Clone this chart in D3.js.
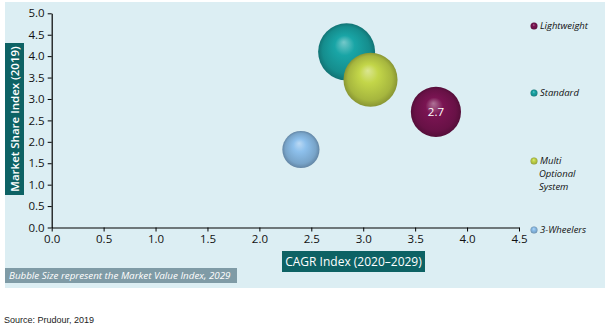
<!DOCTYPE html>
<html><head><meta charset="utf-8">
<script src="https://cdn.jsdelivr.net/npm/d3@7"></script>
<style>
html,body{margin:0;padding:0;background:#fff;}
svg{display:block;}
</style></head>
<body>
<svg id="chart" width="606" height="331"></svg>
<script>
const categories = ["Standard", "Multi Optional System", "Lightweight", "3-Wheelers"];
const cagrIndex = [2.84, 3.07, 3.70, 2.40];
const marketShareIndex = [4.1, 3.45, 2.7, 1.82];
const marketValueIndex = [4.0, 3.6, 3.1, 1.7];
const colors = ["#19A5A6", "#C3D649", "#7A1452", "#8DC0EC"];
const xTicks = [0, 0.5, 1, 1.5, 2, 2.5, 3, 3.5, 4, 4.5];
const yTicks = [0, 0.5, 1, 1.5, 2, 2.5, 3, 3.5, 4, 4.5, 5];
const legendOrder = ["Lightweight", "Standard", "Multi Optional System", "3-Wheelers"];
const legendLines = [["Lightweight"], ["Standard"], ["Multi", "Optional", "System"], ["3-Wheelers"]];
const labelled = ["Lightweight"];

const svg = d3.select("#chart");
const font = "'Open Sans', sans-serif";

// panel
svg.append("rect").attr("x", 5).attr("y", 2).attr("width", 600).attr("height", 286).attr("fill", "#DCEEF3");

const x = d3.scaleLinear().domain([0, 4.5]).range([51.7, 519]);
const y = d3.scaleLinear().domain([0, 5]).range([227.5, 13.3]);
const r = d3.scaleSqrt().domain([0, 4.0]).range([0, 28.5]);

// gradients
const defs = svg.append("defs");
colors.forEach((c, i) => {
  const g = defs.append("radialGradient").attr("id", "g" + i)
    .attr("cx", "50%").attr("cy", "50%").attr("r", "50%")
    .attr("fx", "45%").attr("fy", "33%");
  const base = d3.color(c);
  g.append("stop").attr("offset", "0%").attr("stop-color", d3.interpolateRgb(c, "#ffffff")(0.4));
  g.append("stop").attr("offset", "35%").attr("stop-color", c);
  g.append("stop").attr("offset", "82%").attr("stop-color", base.darker(0.45));
  g.append("stop").attr("offset", "100%").attr("stop-color", base.darker(1.0));
});

// axes
const xAxis = svg.append("g").attr("transform", "translate(0,227.5)")
  .call(d3.axisBottom(x).tickValues(xTicks).tickFormat(d3.format(".1f")).tickSize(4).tickSizeOuter(0));
const yAxis = svg.append("g").attr("transform", "translate(51.7,0)")
  .call(d3.axisLeft(y).tickValues(yTicks).tickFormat(d3.format(".1f")).tickSize(4).tickSizeOuter(0));
[xAxis, yAxis].forEach(a => {
  a.selectAll("path").attr("stroke", "#000").attr("stroke-width", 1.2);
  a.selectAll("line").attr("stroke", "#000");
  a.selectAll("text").attr("fill", "#111").style("font-family", font).style("font-size", "11.5px");
});
xAxis.selectAll("text").attr("dy", "1.0em").attr("y", 4);
yAxis.selectAll("text").attr("x", -7);

// bubbles
const data = categories.map((c, i) => ({c, x: cagrIndex[i], y: marketShareIndex[i], v: marketValueIndex[i], i}));
svg.append("g").selectAll("circle").data(data).join("circle")
  .attr("cx", d => x(d.x)).attr("cy", d => y(d.y)).attr("r", d => r(d.v))
  .attr("fill", d => `url(#g${d.i})`);
svg.append("g").selectAll("text").data(data.filter(d => labelled.includes(d.c))).join("text")
  .attr("x", d => x(d.x)).attr("y", d => y(d.y)).attr("dy", "0.35em")
  .attr("text-anchor", "middle").attr("fill", "#fff")
  .style("font-family", font).style("font-size", "11.5px")
  .text(d => d3.format(".1f")(d.y));

// legend
const legendY = [26, 93, 161, 230];
const lg = svg.append("g");
legendOrder.forEach((name, k) => {
  const i = categories.indexOf(name);
  lg.append("circle").attr("cx", 534).attr("cy", legendY[k]).attr("r", 3.5).attr("fill", `url(#g${i})`);
  legendLines[k].forEach((t, j) => {
    lg.append("text").attr("x", j === 0 ? 540 : 539).attr("y", legendY[k] + j * 13).attr("dy", "0.35em")
      .attr("fill", "#111").style("font-family", font).style("font-size", "9.5px").style("font-style", "italic")
      .text(t);
  });
});

// y title
svg.append("rect").attr("x", 5).attr("y", 43).attr("width", 19).attr("height", 152).attr("fill", "#0D6264");
svg.append("text").attr("transform", "translate(15,119) rotate(-90)").attr("text-anchor", "middle").attr("dy", "0.36em")
  .attr("fill", "#fff").style("font-family", font).style("font-size", "11.5px").style("font-weight", 600)
  .text("Market Share Index (2019)");

// x title
svg.append("rect").attr("x", 282).attr("y", 251).attr("width", 143).attr("height", 21).attr("fill", "#0D6264");
svg.append("text").attr("x", 353.5).attr("y", 261.5).attr("dy", "0.36em").attr("text-anchor", "middle")
  .attr("fill", "#fff").style("font-family", font).style("font-size", "12px")
  .text("CAGR Index (2020–2029)");

// bubble note
svg.append("rect").attr("x", 5).attr("y", 268).attr("width", 232).attr("height", 15).attr("fill", "#7F9BA6");
svg.append("text").attr("x", 9).attr("y", 275.5).attr("dy", "0.36em")
  .attr("fill", "#fff").style("font-family", font).style("font-size", "9.8px").style("font-style", "italic")
  .text("Bubble Size represent the Market Value Index, 2029");

// source
svg.append("text").attr("x", 4).attr("y", 323)
  .attr("fill", "#222").style("font-family", "'Liberation Sans', Arial, sans-serif").style("font-size", "9px")
  .text("Source: Prudour, 2019");
</script>
</body></html>
